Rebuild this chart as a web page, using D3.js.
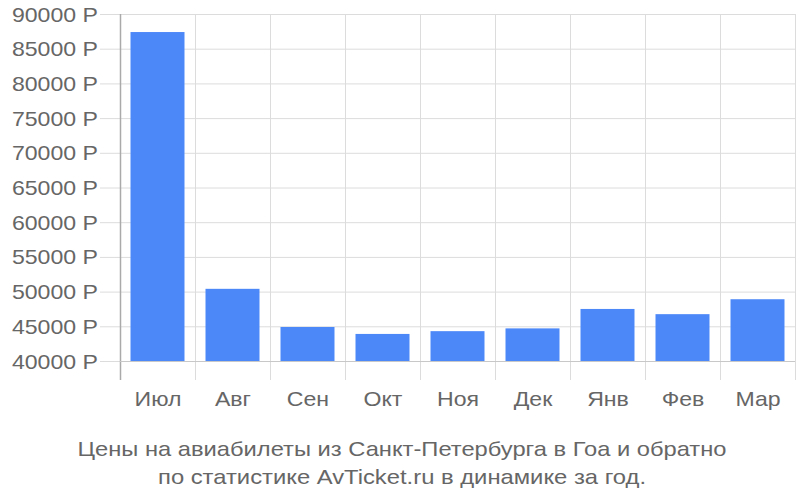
<!DOCTYPE html>
<html><head><meta charset="utf-8">
<script src="https://cdn.jsdelivr.net/npm/d3@7"></script>
<style>body{margin:0;background:#fff}svg{display:block}</style>
</head><body>
<svg id="c" width="800" height="500"></svg>
<script>
const categories = ["Июл","Авг","Сен","Окт","Ноя","Дек","Янв","Фев","Мар"];
const values = [87400, 50400, 44900, 43900, 44300, 44700, 47500, 46750, 48900];
const yTicks = [40000,45000,50000,55000,60000,65000,70000,75000,80000,85000,90000];
const titleLines = ["Цены на авиабилеты из Санкт-Петербурга в Гоа и обратно","по статистике AvTicket.ru в динамике за год."];

const svg = d3.select("#c");
const L = 120, R = 795, T = 14, B = 361;
const x = d3.scaleBand().domain(categories).range([L, R]).paddingInner(0.28).paddingOuter(0.14);
const xg = d3.scaleBand().domain(categories).range([L, R]);
const y = d3.scaleLinear().domain([40000, 90000]).range([B, T]);
const font = "'Liberation Sans', Arial, sans-serif";
const stretch = 1.1;
function widen(sel) {
  sel.each(function() {
    const w = this.getComputedTextLength();
    d3.select(this).attr("textLength", w * stretch).attr("lengthAdjust", "spacingAndGlyphs");
  });
}

// horizontal grid
svg.append("g").selectAll("line").data(yTicks).join("line")
  .attr("x1", 100).attr("x2", R).attr("y1", d => y(d)+0.5).attr("y2", d => y(d)+0.5)
  .attr("stroke", "#dcdcdc").attr("stroke-width", 1);
// vertical grid
svg.append("g").selectAll("line").data(categories).join("line")
  .attr("x1", d => xg(d) + xg.step() + 0.5).attr("x2", d => xg(d) + xg.step() + 0.5)
  .attr("y1", T).attr("y2", 380).attr("stroke", "#dcdcdc");
// bars
svg.append("g").selectAll("rect").data(values).join("rect")
  .attr("x", (d,i) => x(categories[i])).attr("width", x.bandwidth())
  .attr("y", d => y(d)).attr("height", d => B - y(d))
  .attr("fill", "#4d88f9");
// y axis line
svg.append("line").attr("x1", L+0.5).attr("x2", L+0.5).attr("y1", T).attr("y2", 380)
  .attr("stroke", "#aaaaaa").attr("stroke-width", 1.5);
// bottom line
svg.append("line").attr("x1", L).attr("x2", R).attr("y1", B+0.5).attr("y2", B+0.5)
  .attr("stroke", "#c8c8c8");
// y labels
svg.append("g").selectAll("text").data(yTicks).join("text")
  .attr("x", 98).attr("y", d => y(d)).attr("dy", "0.36em").attr("text-anchor", "end")
  .attr("font-family", font).attr("font-size", 21).attr("fill", "#666")
  .text(d => d + " Р").call(widen);
// x labels
svg.append("g").selectAll("text").data(categories).join("text")
  .attr("x", d => xg(d) + xg.bandwidth()/2 + 0.5).attr("y", 406).attr("text-anchor", "middle")
  .attr("font-family", font).attr("font-size", 21).attr("fill", "#666")
  .text(d => d).call(widen);
// title
const tl = [649, 488];
svg.append("g").selectAll("text").data(titleLines).join("text")
  .attr("x", 402).attr("y", (d,i) => 456 + i*28).attr("text-anchor", "middle")
  .attr("font-family", font).attr("font-size", 21).attr("fill", "#666")
  .attr("textLength", (d,i) => tl[i]).attr("lengthAdjust", "spacingAndGlyphs")
  .text(d => d);
</script>
</body></html>
